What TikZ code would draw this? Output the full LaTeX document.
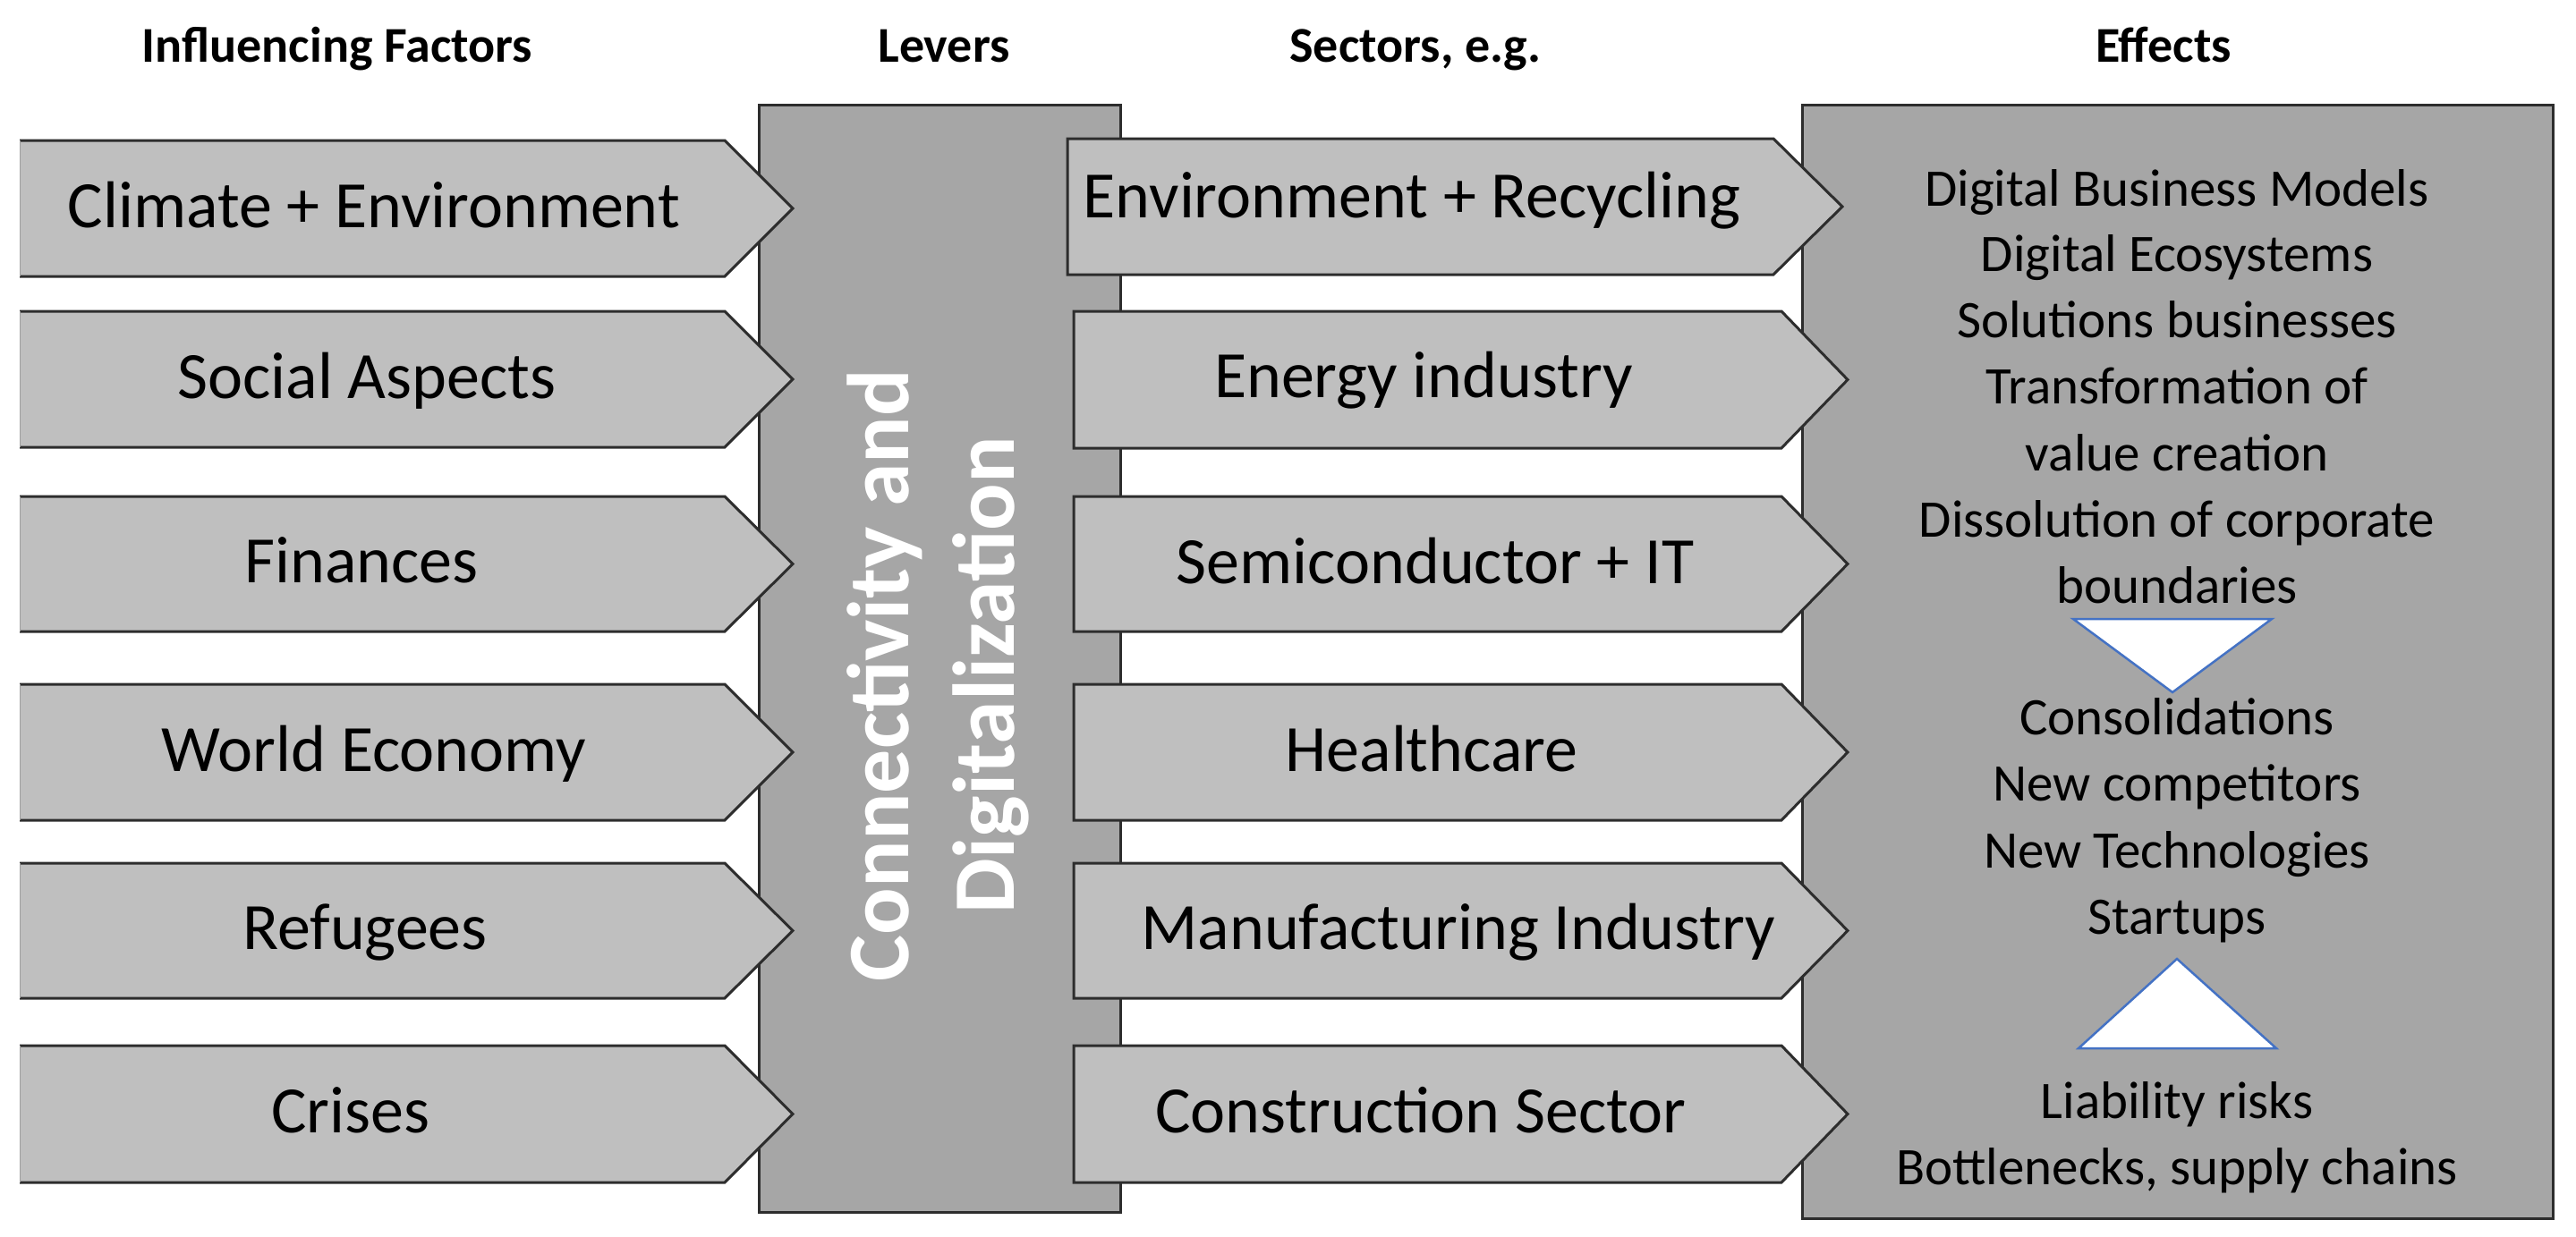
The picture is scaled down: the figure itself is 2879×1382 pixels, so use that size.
\documentclass[tikz,border=0pt]{standalone}
\usepackage{fontspec}
\setmainfont{Carlito}
\definecolor{arrfill}{RGB}{191,191,191}
\definecolor{boxfill}{RGB}{166,166,166}
\definecolor{edge}{RGB}{45,45,45}
\definecolor{triblue}{RGB}{68,114,196}
\begin{document}
\begin{tikzpicture}[x=1pt,y=-1pt,
  arrowfill/.style={fill=arrfill},
  arrowedge/.style={draw=edge,line width=3pt,line join=miter},
  bigbox/.style={fill=boxfill,draw=edge,line width=3pt},
  lbl/.style={font=\fontsize{74}{89}\selectfont,anchor=base,inner sep=0pt},
  hdr/.style={font=\fontsize{56}{67}\selectfont\bfseries,anchor=base,inner sep=0pt},
  eff/.style={font=\fontsize{59}{74}\selectfont,anchor=base,inner sep=0pt},
  levtxt/.style={font=\fontsize{98}{118}\selectfont\bfseries,text=white,rotate=90,anchor=base,inner sep=0pt},
  tri/.style={fill=white,draw=triblue,line width=2.5pt,line join=miter}]
\useasboundingbox (0,0) rectangle (2879,1382);

% headers
\node[hdr] (h1) at (377,69) {Influencing Factors};
\node[hdr] (h2) at (1055,69) {Levers};
\node[hdr] (h3) at (1582,69) {Sectors, e.g.};
\node[hdr] (h4) at (2418,69) {Effects};

% big boxes
\draw[bigbox] (848,117) rectangle (1252,1355);
\draw[bigbox] (2014,117) rectangle (2853,1362);

% influencing factor arrows
\foreach \t/\b/\txt/\cx [count=\i] in {
  157/309/Climate + Environment/418,
  348/500/Social Aspects/410,
  555/706/Finances/404,
  765/917/World Economy/418,
  965/1116/Refugees/408,
  1169/1322/Crises/392}{
  \fill[arrowfill] (22,\t) -- (810,\t) -- (886,{(\t+\b)/2}) -- (810,\b) -- (22,\b) -- cycle;
  \draw[arrowedge] (22,\t) -- (810,\t) -- (886,{(\t+\b)/2}) -- (810,\b) -- (22,\b);
  \draw[gray!75,line width=1pt] (22,\t) -- (22,\b);
  \node[lbl] (f\i) at (\cx,{(\t+\b)/2+21}) {\txt};
}

% sector arrows
\foreach \t/\b/\xa/\xb/\xc/\txt/\cx/\dy [count=\i] in {
  155/307/1193/1982/2059/Environment + Recycling/1578/12,
  348/501/1200/1991/2065/Energy industry/1591/20,
  555/706/1200/1991/2065/Semiconductor + IT/1604/22,
  765/917/1200/1991/2065/Healthcare/1600/21,
  965/1116/1200/1991/2065/Manufacturing Industry/1630/21,
  1169/1322/1200/1991/2065/Construction Sector/1588/21}{
  \draw[arrowfill,arrowedge] (\xa,\t) -- (\xb,\t) -- (\xc,{(\t+\b)/2}) -- (\xb,\b) -- (\xa,\b) -- cycle;
  \node[lbl] (s\i) at (\cx,{(\t+\b)/2+\dy}) {\txt};
}

% lever text
\node[levtxt] (lev1) at (1015,755) {Connectivity and};
\node[levtxt] (lev2) at (1133,755) {Digitalization};

% effects text
\foreach \y/\txt [count=\i] in {
  230/Digital Business Models,
  303/Digital Ecosystems,
  377/Solutions businesses,
  451/Transformation of,
  526/value creation,
  600/Dissolution of corporate,
  674/boundaries,
  821/Consolidations,
  895/New competitors,
  970/New Technologies,
  1044/Startups,
  1250/Liability risks,
  1324/{Bottlenecks, supply chains}}{
  \node[eff] (e\i) at (2433,\y) {\txt};
}

% triangles
\draw[tri] (2317,692) -- (2539,692) -- (2428,774) -- cycle;
\draw[tri] (2433,1072) -- (2544,1172) -- (2323,1172) -- cycle;
\end{tikzpicture}
\end{document}
